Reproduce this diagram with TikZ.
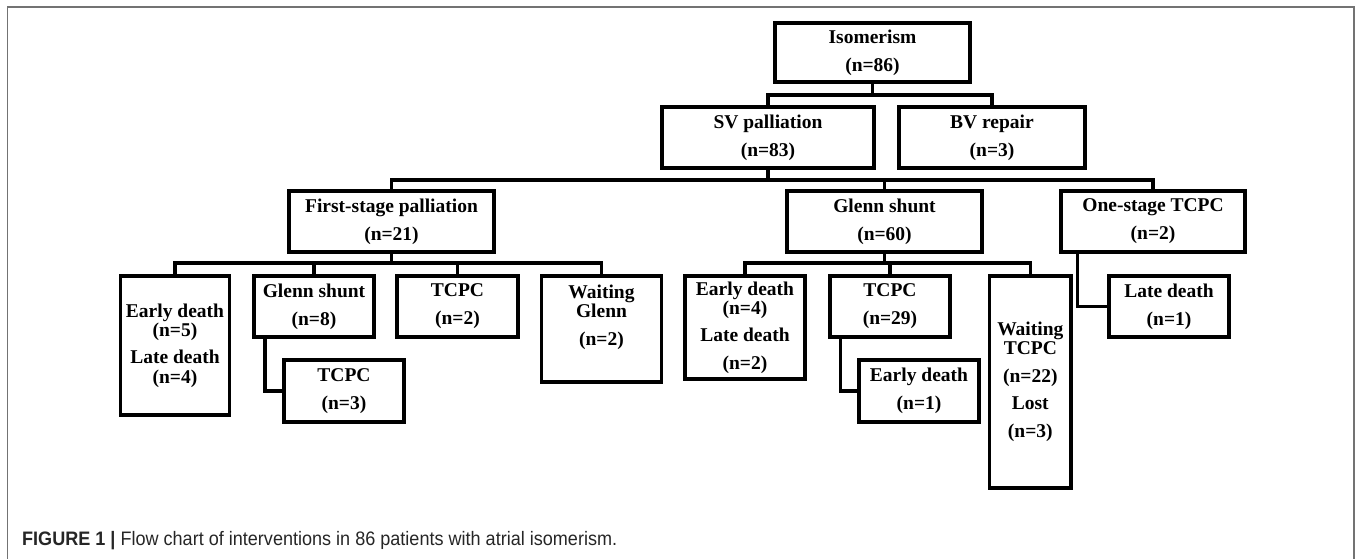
\documentclass[tikz,border=0pt]{standalone}
\usepackage{fontspec}
\usepackage{graphicx}
\setmainfont{Liberation Serif}
\newfontfamily\capfont{Liberation Sans}
\usetikzlibrary{positioning}

\tikzset{
    box/.style={rectangle, draw, line width=3.2pt, inner sep=0pt, align=center,
        font=\fontsize{19.5pt}{19pt}\selectfont\bfseries},
    link/.style={line width=3.2pt},
}

\begin{document}
\begin{tikzpicture}[x=1pt, y=-1pt]
            \useasboundingbox (0,0) rectangle (1357,559);
            \draw[black!55, line width=1.2pt] (7.5,559) -- (7.5,7) -- (1354,7) -- (1354,559);

            % levels 0 and 1
            \node[box, minimum width=195pt, minimum height=59pt] (iso) at (872.5,52.5) {Isomerism\\[9pt](n=86)};
            \node[box, minimum width=212pt, minimum height=61pt] (sv) at (768,137.5) {SV palliation\\[9pt](n=83)};
            \node[box, minimum width=186pt, minimum height=61pt] (bv) at (992,137.5) {BV repair\\[9pt](n=3)};

            % level 2
            \node[box, minimum width=205pt, minimum height=61pt] (fsp) at (391.5,221.5) {First-stage palliation\\[9pt](n=21)};
            \node[box, minimum width=195pt, minimum height=61pt] (gs) at (884.5,221.5) {Glenn shunt\\[9pt](n=60)};
            \node[box, minimum width=184pt, minimum height=61pt] (os) at (1153,221.5) {One-stage TCPC\\[9pt](n=2)};

            % level 3
            \node[box, minimum width=108.5pt, minimum height=139pt] (ed1) at (175,345.5) {Early death\\(n=5)\\[8pt]Late death\\[1pt](n=4)};
            \node[box, minimum width=120pt, minimum height=61pt] (gs8) at (314,306.5) {Glenn shunt\\[9pt](n=8)};
            \node[box, minimum width=121pt, minimum height=61pt] (tc2) at (457.5,306.5) {TCPC\\[9pt](n=2)};
            \node[box, minimum width=120pt, minimum height=106pt] (wg) at (601.5,329) {Waiting\\Glenn\\[9pt](n=2)\\[9pt]\mbox{}};
            \node[box, minimum width=120pt, minimum height=62pt] (tc3) at (344,391) {TCPC\\[9pt](n=3)};
            \node[box, minimum width=120pt, minimum height=103pt] (ed4) at (745,327.5) {Early death\\(n=4)\\[8pt]Late death\\[9pt](n=2)};
            \node[box, minimum width=120pt, minimum height=61pt] (tc29) at (890,306.5) {TCPC\\[9pt](n=29)};
            \node[box, minimum width=120pt, minimum height=62pt] (ed1b) at (919,391) {Early death\\[9pt](n=1)};
            \node[box, minimum width=81.5pt, minimum height=212pt] (wt) at (1030.3,382) {Waiting\\TCPC\\[9pt](n=22)\\[8pt]Lost\\[9pt](n=3)};
            \node[box, minimum width=120pt, minimum height=61pt] (ld1) at (1169,306.5) {Late death\\[9pt](n=1)};

            % bus levels
            \coordinate (busA) at (0,95);
            \coordinate (busB) at (0,180);
            \coordinate (busC) at (0,263);

            \draw[link] (iso.south) -- (iso.south |- busA);
            \draw[link] (sv.north) |- (bv.north |- busA) -- (bv.north);

            \draw[link] (sv.south) -- (sv.south |- busB);
            \draw[link] (fsp.north) |- (os.north |- busB) -- (os.north);
            \draw[link] (gs.north) -- (gs.north |- busB);

            \draw[link] (fsp.south) -- (fsp.south |- busC);
            \draw[link] (ed1.north) |- (wg.north |- busC) -- (wg.north);
            \foreach \n in {gs8, tc2}
                \draw[link] (\n.north) -- (\n.north |- busC);
            \draw[link] (gs.south) -- (gs.south |- busC);
            \draw[link] (ed4.north) |- (wt.north |- busC) -- (wt.north);
            \draw[link] (tc29.north) -- (tc29.north |- busC);

            \draw[link] ([xshift=12.5pt]gs8.south west) |- (tc3.west);
            \draw[link] ([xshift=12pt]tc29.south west) |- (ed1b.west);
            \draw[link] ([xshift=18pt]os.south west) |- (ld1.west);

            % caption
            \node[anchor=base west, inner sep=0pt, text=black!85, font=\capfont\fontsize{19.5pt}{22pt}\selectfont] (cap) at (22,545)
                {\resizebox{595pt}{\height}{\textbf{FIGURE 1 |} Flow chart of interventions in 86 patients with atrial isomerism.}};
        \end{tikzpicture}
\end{document}
